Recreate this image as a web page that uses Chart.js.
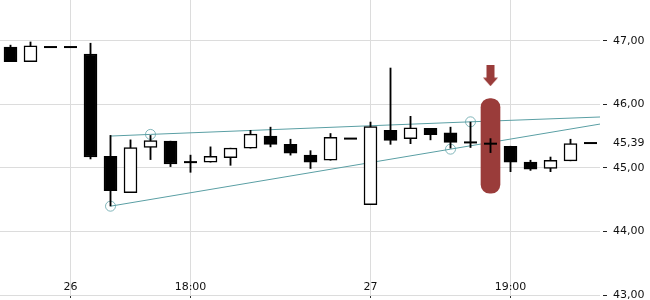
<!DOCTYPE html>
<html>
<head>
<meta charset="utf-8">
<script src="https://cdn.jsdelivr.net/npm/chart.js@4"></script>
<style>
  html, body { margin: 0; padding: 0; background: #fff; }
  #wrap { width: 650px; height: 300px; }
</style>
</head>
<body>
<div id="wrap"><canvas id="chart" width="650" height="300"></canvas></div>
<script>
// candles (index 0..29)
const opens  = [46.90, 46.67, 46.90, 46.90, 46.79, 45.18, 44.61, 45.32, 45.42, 45.09,
                45.09, 45.16, 45.31, 45.50, 45.37, 45.20, 45.12, 45.46, 44.42, 45.59,
                45.46, 45.62, 45.55, 45.40, 45.38, 45.34, 45.09, 44.99, 45.11, 45.39];
const highs  = [46.93, 46.98, 46.90, 46.90, 46.96, 45.51, 45.44, 45.51, 45.42, 45.20,
                45.33, 45.31, 45.59, 45.64, 45.45, 45.27, 45.54, 45.46, 45.72, 46.57,
                45.81, 45.62, 45.64, 45.72, 45.46, 45.34, 45.12, 45.17, 45.45, 45.39];
const lows   = [46.67, 46.67, 46.90, 46.90, 45.14, 44.40, 44.61, 45.13, 45.02, 44.93,
                45.09, 45.04, 45.31, 45.33, 45.20, 44.99, 45.12, 45.46, 44.42, 45.37,
                45.38, 45.44, 45.31, 45.32, 45.24, 44.94, 44.96, 44.94, 45.11, 45.39];
const closes = [46.67, 46.92, 46.90, 46.90, 45.17, 44.64, 45.32, 45.43, 45.06, 45.09,
                45.18, 45.31, 45.53, 45.37, 45.23, 45.09, 45.48, 45.46, 45.65, 45.43,
                45.63, 45.52, 45.40, 45.40, 45.38, 45.09, 44.98, 45.12, 45.38, 45.39];

const xTickIdx = [3, 9, 18, 25];
const xTickLabels = ['26', '18:00', '27', '19:00'];
const yTicks = [43, 44, 45, 46, 47];

// trend lines [index, price]
const upperTrend = [[5, 45.50], [7, 45.526], [23, 45.724], [29.5, 45.80]];
const lowerTrend = [[5, 44.397], [22, 45.294], [29.5, 45.69]];
const upperMarks = [7, 23];
const lowerMarks = [5, 22];

// highlighted candle
const markIdx = 24;
const markBand = [44.60, 46.09];
const arrowY = 46.45;

const lastClose = closes[closes.length - 1];
const red = '#9a3c3a';
const teal = '#5a9fa4';
const gridCol = '#dcdcdc';
const font = { family: 'DejaVu Sans', size: 11 };

const idx = closes.map((c, i) => i);
const bodies = idx.filter(i => opens[i] !== closes[i]).map(i => ({ x: i, y: [opens[i], closes[i]] }));
const dojis = idx.filter(i => opens[i] === closes[i]).map(i => ({ x: i, y: closes[i] }));
const wicks = idx.filter(i => highs[i] !== lows[i]).map(i => ({ x: i, y: [lows[i], highs[i]] }));

const arrow = document.createElement('canvas');
arrow.width = 15; arrow.height = 21;
const a = arrow.getContext('2d');
a.fillStyle = red;
a.fillRect(3.5, 0, 8, 13);
a.beginPath(); a.moveTo(0, 12.5); a.lineTo(15, 12.5); a.lineTo(7.5, 21); a.closePath(); a.fill();

function trendData(pts) { return pts.map(p => ({ x: p[0], y: p[1] })); }
function markRadius(pts, marks) { return pts.map(p => marks.includes(p[0]) ? 5 : 0); }

// x labels sit inside the plot, just above the bottom line
const innerXLabels = {
    id: 'innerXLabels',
    afterDraw(chart) {
        const xs = chart.scales.x, ctx = chart.ctx;
        ctx.save();
        ctx.font = '11px "DejaVu Sans"';
        ctx.fillStyle = '#111';
        ctx.textAlign = 'center';
        ctx.textBaseline = 'middle';
        xTickIdx.forEach((v, i) => {
            ctx.fillText(xTickLabels[i], xs.getPixelForValue(v), chart.chartArea.bottom - 8);
        });
        ctx.restore();
    }
};

new Chart(document.getElementById('chart'), {
    type: 'bar',
    data: {
        datasets: [
            {
                type: 'line', data: trendData(upperTrend), order: 8,
                borderColor: teal, borderWidth: 1, fill: false,
                pointRadius: markRadius(upperTrend, upperMarks),
                pointBorderColor: 'rgba(90,159,164,0.75)', pointBackgroundColor: 'rgba(0,0,0,0)', pointBorderWidth: 1
            },
            {
                type: 'line', data: trendData(lowerTrend), order: 8,
                borderColor: teal, borderWidth: 1, fill: false,
                pointRadius: markRadius(lowerTrend, lowerMarks),
                pointBorderColor: 'rgba(90,159,164,0.75)', pointBackgroundColor: 'rgba(0,0,0,0)', pointBorderWidth: 1
            },
            {
                data: [{ x: markIdx, y: markBand }], order: 6, grouped: false,
                backgroundColor: red, barThickness: 19, borderRadius: 9, borderSkipped: false
            },
            {
                data: wicks, order: 4, grouped: false,
                backgroundColor: '#000', barThickness: 1.2
            },
            {
                data: bodies, order: 2, grouped: false, barThickness: 13,
                backgroundColor: ctx => ctx.raw.y[1] < ctx.raw.y[0] ? '#000' : '#fff',
                borderColor: '#000', borderWidth: 1.5, borderSkipped: false
            },
            {
                type: 'line', data: dojis, order: 1, showLine: false,
                pointStyle: 'line', pointRadius: 6.5, borderColor: '#000', borderWidth: 2
            },
            {
                type: 'line', data: [{ x: markIdx, y: arrowY }], order: 0, showLine: false,
                pointStyle: arrow, pointRadius: 10
            }
        ]
    },
    options: {
        responsive: false,
        animation: false,
        events: [],
        layout: { padding: 0, autoPadding: false },
        plugins: { legend: { display: false }, tooltip: { enabled: false } },
        scales: {
            x: {
                type: 'linear',
                offset: false,
                min: -0.525, max: 29.475,
                border: { display: false },
                grid: { offset: false, color: gridCol, tickLength: 3, tickColor: '#333' },
                ticks: { display: false },
                afterBuildTicks: s => { s.ticks = xTickIdx.map(v => ({ value: v })); },
                afterFit: s => { s.height = 5; s.paddingLeft = 0; s.paddingRight = 0; }
            },
            y: {
                position: 'right',
                min: 43, max: 47.64,
                border: { display: false },
                grid: {
                    color: ctx => ctx.tick && ctx.tick.value === lastClose ? 'rgba(0,0,0,0)' : gridCol,
                    tickColor: ctx => ctx.tick && ctx.tick.value === lastClose ? 'rgba(0,0,0,0)' : '#222',
                    tickLength: 7, tickBorderDash: [0, 3, 4, 10]
                },
                ticks: {
                    padding: 6, color: '#111', font: font,
                    callback: v => v.toFixed(2).replace('.', ',')
                },
                afterBuildTicks: s => { s.ticks = yTicks.concat([lastClose]).sort((p, q) => p - q).map(v => ({ value: v })); },
                afterFit: s => { s.width = 50; s.paddingTop = 0; s.paddingBottom = 0; }
            }
        }
    },
    plugins: [innerXLabels]
});
</script>
</body>
</html>
